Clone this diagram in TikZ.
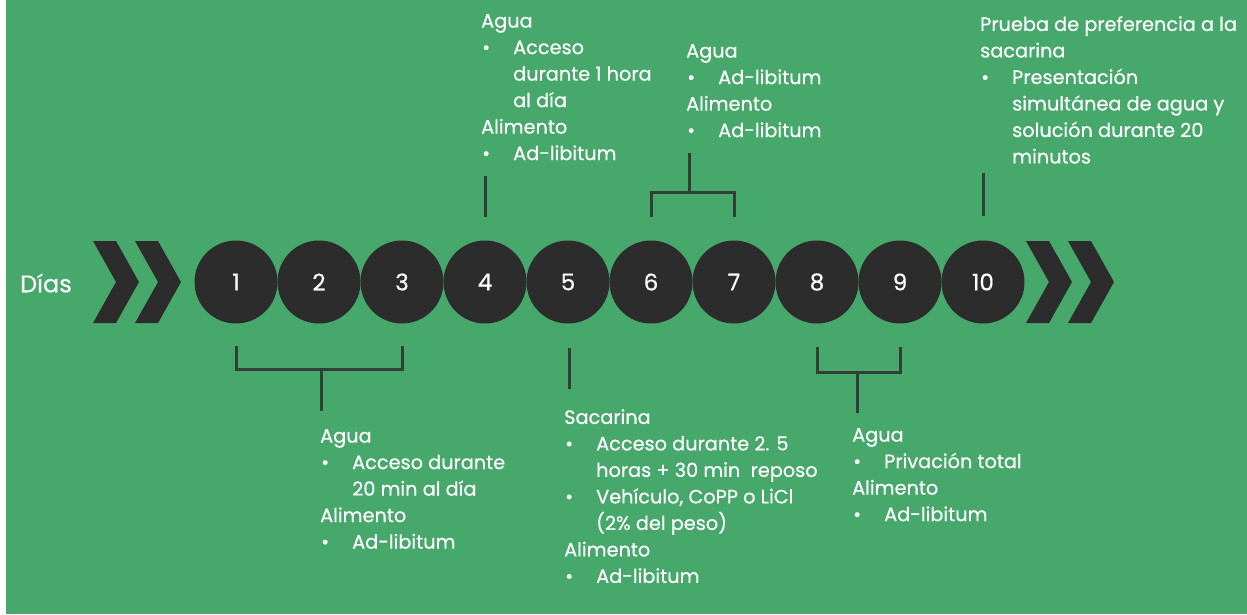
\documentclass[tikz,border=0pt]{standalone}
\usepackage{fontspec}
\setmainfont{Poppins}[FakeBold=0.4]
\usetikzlibrary{calc}
\usepackage{xcolor}
\definecolor{mygreen}{RGB}{71,168,108}
\definecolor{mydark}{RGB}{44,44,44}
\definecolor{myline}{RGB}{50,62,54}
\newcommand{\bul}{\makebox[32pt][l]{\hspace{1pt}\textbullet}}
\newcommand{\ind}{\hspace*{32pt}}

\begin{document}
\begin{tikzpicture}[x=1pt,y=-1pt,node distance=83pt]
  \tikzstyle{day}=[circle,fill=mydark,draw=none,text=white,minimum size=83pt,inner sep=0pt,font=\fontsize{23}{28}\selectfont]
  \tikzstyle{info}=[anchor=north west,align=left,text=white,inner sep=0pt,font=\fontsize{19.3}{26.5}\selectfont]
  \tikzstyle{link}=[draw=myline,line width=3pt]

  \useasboundingbox (0,0) rectangle (1247,614);
  \fill[mygreen] (6,0) rectangle (1247,614);

  % chevrons
  \foreach \x in {93,135,1026,1068}
    \fill[mydark] (\x,241) -- ++(23,0) -- ++(23,41) -- ++(-23,41) -- ++(-23,0) -- ++(23,-41) -- cycle;

  \node[text=white,anchor=west,inner sep=0pt,font=\fontsize{24}{28}\selectfont] (dias) at (20,283) {Días};

  \node[day] (d1) at (236,282) {1};
  \node[day] (d2) [right of=d1] {2};
  \node[day] (d3) [right of=d2] {3};
  \node[day] (d4) [right of=d3] {4};
  \node[day] (d5) [right of=d4] {5};
  \node[day] (d6) [right of=d5] {6};
  \node[day] (d7) [right of=d6] {7};
  \node[day] (d8) [right of=d7] {8};
  \node[day] (d9) [right of=d8] {9};
  \node[day] (d10) [right of=d9] {10};

  \node[info] (t4) at (481,14) {Agua\\ \bul Acceso\\ \ind durante 1 hora\\ \ind al día\\ Alimento\\ \bul Ad-libitum};
  \node[info] (t67) at (686,44) {Agua\\ \bul Ad-libitum\\ Alimento\\ \bul Ad-libitum};
  \node[info] (t10) at (980,16) {Prueba de preferencia a la\\ sacarina\\ \bul Presentación\\ \ind simultánea de agua y\\ \ind solución durante 20\\ \ind minutos};
  \node[info] (t13) at (320,429) {Agua\\ \bul Acceso durante\\ \ind 20 min al día\\ Alimento\\ \bul Ad-libitum};
  \node[info] (t5) at (564,409) {Sacarina\\ \bul Acceso durante 2. 5\\ \ind horas + 30 min~ reposo\\ \bul Vehículo, CoPP o LiCl\\ \ind (2\% del peso)\\ Alimento\\ \bul Ad-libitum};
  \node[info] (t89) at (852,428) {Agua\\ \bul Privación total\\ Alimento\\ \bul Ad-libitum};

  % brackets and stems
  \draw[link] ($(d1.south)+(0,22)$) |- ($(d3.south)+(0,46)$) -- ($(d3.south)+(0,22)$);
  \draw[link] ($(t13.north west |- d1.south)+(1,46)$) -- ($(t13.north west)+(1,-18)$);
  \draw[link] ($(d4.north)+(0,-23)$) -- ($(d4.north |- t4.south)+(0,16)$);
  \draw[link] ($(d5.south)+(1,24)$) -- ($(d5.south |- t5.north)+(1,-20)$);
  \draw[link] ($(d6.north)+(0,-23)$) |- ($(d7.north)+(0,-48)$) -- ($(d7.north)+(0,-23)$);
  \draw[link] ($(t67.south west |- d6.north)+(3,-48)$) -- ($(t67.south west)+(3,16)$);
  \draw[link] ($(d8.south)+(0,23)$) |- ($(d9.south)+(0,49)$) -- ($(d9.south)+(0,23)$);
  \draw[link] ($(t89.north west |- d8.south)+(5,49)$) -- ($(t89.north west)+(5,-15)$);
  \draw[link] ($(d10.north)+(0,-24)$) -- ($(d10.north |- t10.south)+(0,9)$);
\end{tikzpicture}
\end{document}
